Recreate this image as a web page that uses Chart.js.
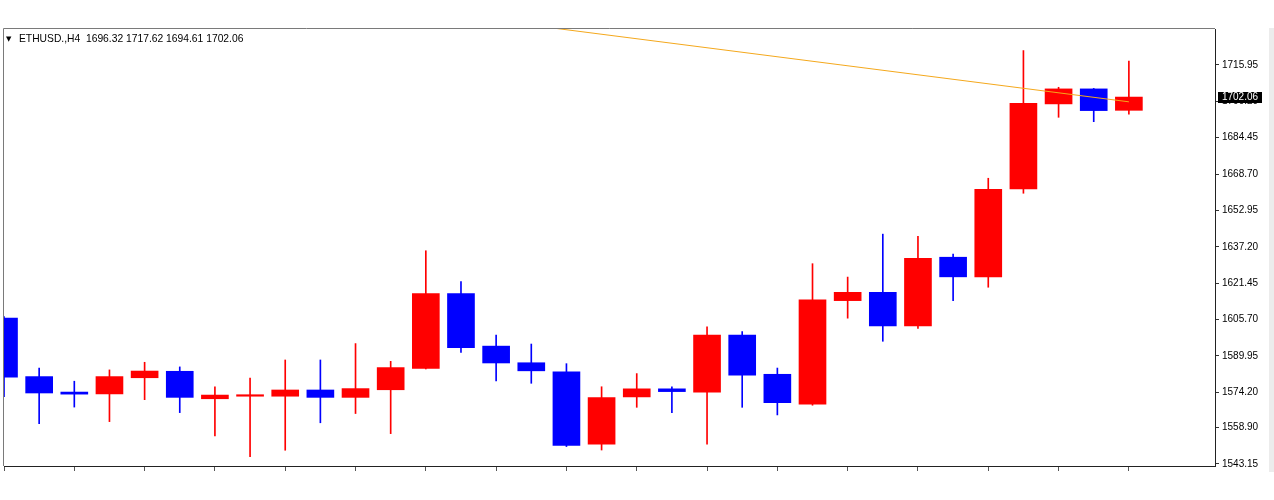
<!DOCTYPE html>
<html>
<head>
<meta charset="utf-8">
<title>ETHUSD H4</title>
<script src="https://cdn.jsdelivr.net/npm/chart.js@4.4.1/dist/chart.umd.min.js"></script>
<style>
  html, body { margin: 0; padding: 0; background: #ffffff; }
  #wrap { width: 1274px; height: 500px; position: relative; }
</style>
</head>
<body>
<div id="wrap"><canvas id="candles" width="1274" height="500"></canvas></div>
<script>
// ETHUSD., H4 candles (bar index 0 = leftmost, partly cut)
const opens  = [1606.3, 1581.0, 1574.3, 1573.5, 1580.5, 1583.3, 1571.4, 1572.5, 1572.5, 1575.2,
                1572.0, 1575.3, 1584.5, 1617.0, 1594.2, 1587.0, 1583.1, 1551.7, 1572.2, 1575.7,
                1574.3, 1599.0, 1582.0, 1569.1, 1613.9, 1617.5, 1603.0, 1632.7, 1624.2, 1662.3,
                1699.1, 1705.6, 1696.32];
const highs  = [1607.0, 1584.7, 1579.0, 1583.9, 1587.2, 1585.2, 1576.6, 1580.4, 1588.2, 1588.2,
                1595.3, 1587.6, 1635.5, 1622.1, 1599.0, 1595.1, 1586.6, 1576.6, 1582.3, 1576.6,
                1602.6, 1600.5, 1584.7, 1629.9, 1624.1, 1642.7, 1641.8, 1634.1, 1666.9, 1722.2,
                1706.3, 1705.8, 1717.62];
const lows   = [1572.3, 1560.6, 1567.8, 1561.5, 1571.0, 1565.4, 1555.3, 1546.3, 1549.1, 1561.0,
                1565.0, 1556.3, 1584.3, 1591.5, 1579.1, 1578.1, 1550.7, 1549.2, 1567.7, 1565.4,
                1551.7, 1567.7, 1564.4, 1568.6, 1606.3, 1596.3, 1601.9, 1613.9, 1619.7, 1660.4,
                1693.3, 1691.4, 1694.61];
const closes = [1580.7, 1573.9, 1573.4, 1581.0, 1583.4, 1572.0, 1573.0, 1573.0, 1575.2, 1572.0,
                1575.8, 1584.9, 1617.0, 1593.5, 1586.9, 1583.5, 1551.2, 1571.9, 1575.7, 1574.5,
                1599.0, 1581.6, 1569.7, 1614.2, 1617.5, 1603.0, 1632.2, 1624.2, 1662.1, 1699.4,
                1705.6, 1696.2, 1702.06];

// price axis labels as printed by the terminal
const yTickLabels = ["1543.15", "1558.90", "1574.20", "1589.95", "1605.70", "1621.45",
                     "1637.20", "1652.95", "1668.70", "1684.45", "1700.20", "1715.95"];
// time axis tick marks (every second bar, no labels visible)
const xTickIdx = [0, 2, 4, 6, 8, 10, 12, 14, 16, 18, 20, 22, 24, 26, 28, 30, 32];

// trend line anchors: [bar index, price]
const trendX = [15.5, 32];
const trendY = [1732.2, 1700.0];

const titleText = "ETHUSD.,H4  1696.32 1717.62 1694.61 1702.06";
const lastPrice = "1702.06";

const UP = "#ff0000";
const DOWN = "#0000ff";

const barColors = closes.map((c, i) => (c >= opens[i] ? UP : DOWN));
const bodyData = closes.map((c, i) => ({ x: i, y: [opens[i], c] }));
const wickData = closes.map((c, i) => ({ x: i, y: [lows[i], highs[i]] }));
const trendData = trendX.map((x, i) => ({ x: x, y: trendY[i] }));

const terminalDecor = {
  id: "terminalDecor",
  beforeDraw(chart) {
    const ctx = chart.ctx;
    ctx.save();
    ctx.fillStyle = "#ffffff";
    ctx.fillRect(0, 0, chart.width, chart.height);
    ctx.fillStyle = "#ececec";
    ctx.fillRect(1269, 28, 5, 444);
    ctx.restore();
  },
  afterDraw(chart) {
    const ctx = chart.ctx;
    const area = chart.chartArea;
    const y = chart.scales.y;
    ctx.save();

    // left and top frame
    ctx.strokeStyle = "#7a7a7a";
    ctx.lineWidth = 1;
    ctx.beginPath();
    ctx.moveTo(area.left - 0.5, area.bottom);
    ctx.lineTo(area.left - 0.5, area.top - 0.5);
    ctx.lineTo(area.right, area.top - 0.5);
    ctx.stroke();

    // symbol header
    ctx.fillStyle = "#000000";
    ctx.textBaseline = "alphabetic";
    ctx.textAlign = "left";
    ctx.font = "7px 'DejaVu Sans'";
    ctx.fillText("▼", 6, 41);
    ctx.font = "10.3px 'Liberation Sans'";
    ctx.fillText(titleText, 19, 42);

    // current price tag on the axis
    const py = y.getPixelForValue(Number(lastPrice));
    ctx.fillStyle = "#000000";
    ctx.fillRect(area.right + 3, Math.round(py) - 5, 44, 11);
    ctx.fillStyle = "#ffffff";
    ctx.textBaseline = "middle";
    ctx.textAlign = "center";
    ctx.font = "10px 'Liberation Sans'";
    ctx.fillText(lastPrice, area.right + 25, Math.round(py) + 0.5);

    ctx.restore();
  }
};

window.addEventListener("DOMContentLoaded", () => {
  const canvas = document.getElementById("candles");
  new Chart(canvas, {
    type: "bar",
    data: {
      datasets: [
        {
          type: "line",
          data: trendData,
          borderColor: "#f4a81c",
          borderWidth: 1,
          pointRadius: 0,
          fill: false,
          order: 0
        },
        {
          data: bodyData,
          backgroundColor: barColors,
          borderWidth: 0,
          barThickness: 27,
          minBarLength: 1.5,
          grouped: false,
          order: 1
        },
        {
          data: wickData,
          backgroundColor: barColors,
          borderWidth: 0,
          barThickness: 1,
          grouped: false,
          order: 2
        }
      ]
    },
    options: {
      responsive: false,
      animation: false,
      devicePixelRatio: 1,
      layout: { padding: { left: 4, top: 29, right: 0, bottom: 0 } },
      plugins: {
        legend: { display: false },
        tooltip: { enabled: false }
      },
      scales: {
        x: {
          type: "linear",
          min: 0,
          max: 34.45,
          offset: false,
          grid: { display: true, offset: false, drawOnChartArea: false, drawTicks: true, tickLength: 5, color: "#555555" },
          border: { display: true, color: "#222222" },
          ticks: { display: false },
          afterBuildTicks: (scale) => {
            scale.ticks = xTickIdx.map((v) => ({ value: v }));
          },
          afterFit: (scale) => {
            scale.height = 34;
          }
        },
        y: {
          type: "linear",
          position: "right",
          min: 1542.28,
          max: 1731.54,
          grid: { display: true, drawOnChartArea: false, drawTicks: true, tickLength: 4, color: "#333333" },
          border: { display: true, color: "#222222" },
          ticks: {
            color: "#000000",
            padding: 3,
            font: { family: "'Liberation Sans'", size: 10 },
            callback: (value) => {
              const hit = yTickLabels.find((t) => Math.abs(Number(t) - value) < 0.001);
              return hit || "";
            }
          },
          afterBuildTicks: (scale) => {
            scale.ticks = yTickLabels.map((t) => ({ value: Number(t) }));
          },
          afterFit: (scale) => {
            scale.width = 59;
          }
        }
      }
    },
    plugins: [terminalDecor]
  });
});
</script>
</body>
</html>
